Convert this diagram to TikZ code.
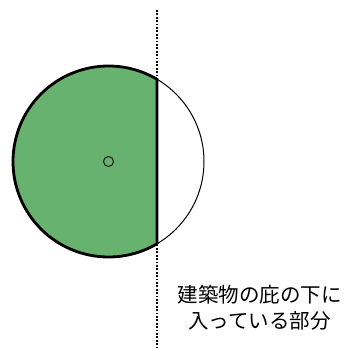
\documentclass[tikz,border=0pt]{standalone}
\usepackage{fontspec}
\newfontfamily\jpfont{Noto Sans CJK JP}
\definecolor{leafgreen}{RGB}{102,178,110}
\begin{document}
\begin{tikzpicture}[x=1pt,y=-1pt,line cap=round]
        % Styles
        \tikzstyle{outline}=[line width=1pt]
        \tikzstyle{important line}=[line width=2.8pt]
        \tikzstyle{eaves line}=[line width=1.8pt,line cap=butt,dash pattern=on 1.8pt off 1.6pt]
        \tikzstyle{information text}=[align=center,inner sep=0pt,font=\jpfont\fontsize{20.5}{25.5}\selectfont]
        \useasboundingbox (0,0) rectangle (350,348);
        %The graphic
        \coordinate (O) at (108.5,161.5);
        \def\rad{95.5}
        \def\ang{59.5}
        %part under the eaves
        \fill[leafgreen] (O) ++(\ang:\rad) arc[start angle=\ang,end angle=360-\ang,radius=\rad] -- cycle;
        \draw[style=outline] (O) circle[radius=\rad];
        \draw[style=important line] (O) ++(\ang:\rad) coordinate(chord a)
            arc[start angle=\ang,end angle=360-\ang,radius=\rad] coordinate(chord b) -- (chord a);
        \draw[line width=1.1pt,black!85] (O) circle[radius=5];
        %eaves line
        \coordinate (eaves top) at (157,10);
        \coordinate (eaves bottom) at (157,347);
        \draw[style=eaves line] (eaves top) -- (eaves bottom);
        \node[style=information text] (under eaves) at (259.5,307.5) {建築物の庇の下に\\入っている部分};
\end{tikzpicture}
\end{document}
